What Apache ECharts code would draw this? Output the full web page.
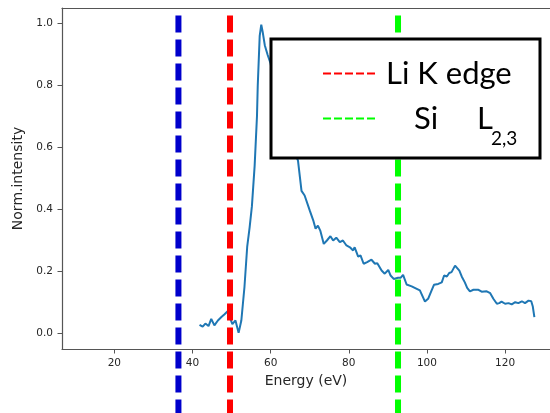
<!DOCTYPE html>
<html>
<head>
<meta charset="utf-8">
<script src="https://cdn.jsdelivr.net/npm/echarts@6/dist/echarts.min.js"></script>
<style>
  html, body { margin: 0; padding: 0; background: #fff; }
  #main { width: 550px; height: 413px; }
</style>
</head>
<body>
<div id="main"></div>
<script>
// spectrum (energy in eV, normalised intensity)
var energy = [41.8, 42.6, 43.3, 44.1, 44.8, 45.6, 46.5, 47.4, 48.2, 49.0, 49.6, 50.2, 50.6, 51.0, 51.8, 52.5,
  53.3, 54.0, 54.6, 55.2, 55.9, 56.5, 56.7, 57.2, 57.6, 58.0, 58.5, 59.2, 60, 61, 62, 63, 64, 65, 66,
  67.0, 67.9, 68.7, 70.0, 70.9, 71.5, 72.1, 72.7, 73.6, 74.4, 75.3, 76.0, 76.8, 77.7, 78.5, 79.4, 80.3,
  81.1, 81.5, 82.4, 83.0, 83.8, 84.7, 85.8, 86.7, 87.3, 88.4, 89.2, 90.1, 90.7, 91.5, 92.6, 93.3, 93.9,
  94.8, 96.1, 97.4, 98.2, 98.6, 99.5, 100.3, 101.2, 101.8, 102.9, 103.8, 104.4, 105.1, 105.7, 106.3,
  107.2, 107.6, 108.3, 108.9, 109.7, 110.3, 111.0, 111.9, 113.2, 114.0, 115.3, 116.2, 117.0, 117.9,
  118.5, 119.1, 120.0, 120.9, 121.7, 122.6, 123.4, 124.3, 125.1, 126.0, 126.7, 127.1, 127.5];
var intensity = [0.028, 0.022, 0.032, 0.024, 0.047, 0.026, 0.042, 0.053, 0.062, 0.072, 0.05, 0.03, 0.036, 0.042, 0.002, 0.042,
  0.15, 0.28, 0.34, 0.41, 0.54, 0.70, 0.80, 0.96, 0.996, 0.97, 0.93, 0.90, 0.87, 0.80, 0.74, 0.69, 0.65, 0.62, 0.59,
  0.558, 0.46, 0.445, 0.397, 0.365, 0.338, 0.348, 0.332, 0.289, 0.30, 0.314, 0.30, 0.309, 0.295, 0.30, 0.284, 0.278,
  0.268, 0.278, 0.248, 0.252, 0.225, 0.23, 0.238, 0.225, 0.227, 0.203, 0.193, 0.205, 0.187, 0.176, 0.18, 0.18, 0.189,
  0.158, 0.152, 0.144, 0.139, 0.133, 0.103, 0.112, 0.139, 0.157, 0.160, 0.165, 0.187, 0.184, 0.195, 0.198,
  0.219, 0.223, 0.203, 0.184, 0.165, 0.147, 0.136, 0.141, 0.141, 0.135, 0.136, 0.13, 0.112, 0.096,
  0.098, 0.103, 0.096, 0.098, 0.094, 0.101, 0.098, 0.104, 0.098, 0.106, 0.104, 0.087, 0.053];

// edge markers (eV)
var edgeNames = ['', 'Li K edge', 'Si L2,3'];
var edgeEnergy = [36.4, 49.6, 92.6];
var edgeColors = ['#0000cc', '#ff0000', '#00ff00'];
var edgeSpan = [1.026, -0.26]; // top / bottom of the dashed markers, in intensity units

var xTicks = [20, 40, 60, 80, 100, 120];
var yTicks = [0.0, 0.2, 0.4, 0.6, 0.8, 1.0];

var chart = echarts.init(document.getElementById('main'));

var spectrum = energy.map(function (e, i) { return [e, intensity[i]]; });

var series = [{
  name: 'spectrum',
  type: 'line',
  data: spectrum,
  symbol: 'none',
  lineStyle: { color: '#1f77b4', width: 2 },
  z: 2
}];
for (var i = 0; i < edgeEnergy.length; i++) {
  series.push({
    name: edgeNames[i] || 'edge' + i,
    type: 'line',
    data: [[edgeEnergy[i], edgeSpan[0]], [edgeEnergy[i], edgeSpan[1]]],
    symbol: 'none',
    clip: false,
    silent: true,
    color: edgeColors[i],
    lineStyle: { color: edgeColors[i], width: 6, type: [17, 7], cap: 'butt' },
    z: 3
  });
}

var tickFont = { fontFamily: 'DejaVu Sans', fontSize: 10.5, color: '#262626' };
var spine = { show: true, onZero: false, lineStyle: { color: '#555', width: 1.2 } };

var option = {
  animation: false,
  backgroundColor: '#fff',
  grid: { left: 62, right: 0, top: 8, bottom: 64 },
  xAxis: [{
    type: 'value',
    min: 6.6, max: 131.5,
    name: 'Energy (eV)',
    nameLocation: 'middle',
    nameGap: 24,
    nameTextStyle: { fontFamily: 'DejaVu Sans', fontSize: 14, color: '#262626' },
    axisLine: spine,
    axisTick: { show: true, length: 4.5, customValues: xTicks, lineStyle: { color: '#555' } },
    axisLabel: Object.assign({ margin: 9, customValues: xTicks }, tickFont),
    splitLine: { show: false }
  }, {
    // top spine only
    type: 'value',
    position: 'top',
    min: 6.6, max: 131.5,
    axisLine: spine,
    axisTick: { show: false },
    axisLabel: { show: false },
    splitLine: { show: false }
  }],
  yAxis: {
    type: 'value',
    min: -0.05, max: 1.05,
    name: 'Norm.intensity',
    nameLocation: 'middle',
    nameGap: 36,
    nameTextStyle: { fontFamily: 'DejaVu Sans', fontSize: 14, color: '#262626' },
    axisLine: spine,
    axisTick: { show: true, length: 4.5, customValues: yTicks, lineStyle: { color: '#555' } },
    axisLabel: Object.assign({
      margin: 9, customValues: yTicks,
      formatter: function (v) { return v.toFixed(1); }
    }, tickFont),
    splitLine: { show: false }
  },
  legend: {
    data: ['Li K edge', 'Si L2,3'],
    orient: 'vertical',
    left: 271, top: 39,
    padding: [19, 9, 10, 51],
    itemWidth: 53, itemHeight: 14,
    itemGap: 0,
    backgroundColor: '#fff',
    borderColor: '#000',
    borderWidth: 3,
    selectedMode: false,
    lineStyle: { width: 2, type: [8, 3], cap: 'butt' },
    itemStyle: { opacity: 0 },
    textStyle: {
      fontFamily: 'Lato', fontSize: 31, color: '#000',
      rich: {
        a: { fontFamily: 'Lato', fontSize: 31, color: '#000', lineHeight: 36, padding: [0, 0, 0, 5] },
        b: { fontFamily: 'Lato', fontSize: 31, color: '#000', lineHeight: 36, width: 23, padding: [0, 0, 0, 33] },
        c: { fontFamily: 'Lato', fontSize: 31, color: '#000', lineHeight: 36, width: 14, padding: [0, 0, 0, 40] },
        d: { fontFamily: 'Lato', fontSize: 19, color: '#000', lineHeight: 19, width: 40, padding: [40, 0, 0, 0] }
      }
    },
    formatter: function (name) {
      if (name === 'Li K edge') return '{a|Li K edge}';
      return '{b|Si}{c|L}{d|2,3}';
    }
  },
  series: series
};

chart.setOption(option);
</script>
</body>
</html>
